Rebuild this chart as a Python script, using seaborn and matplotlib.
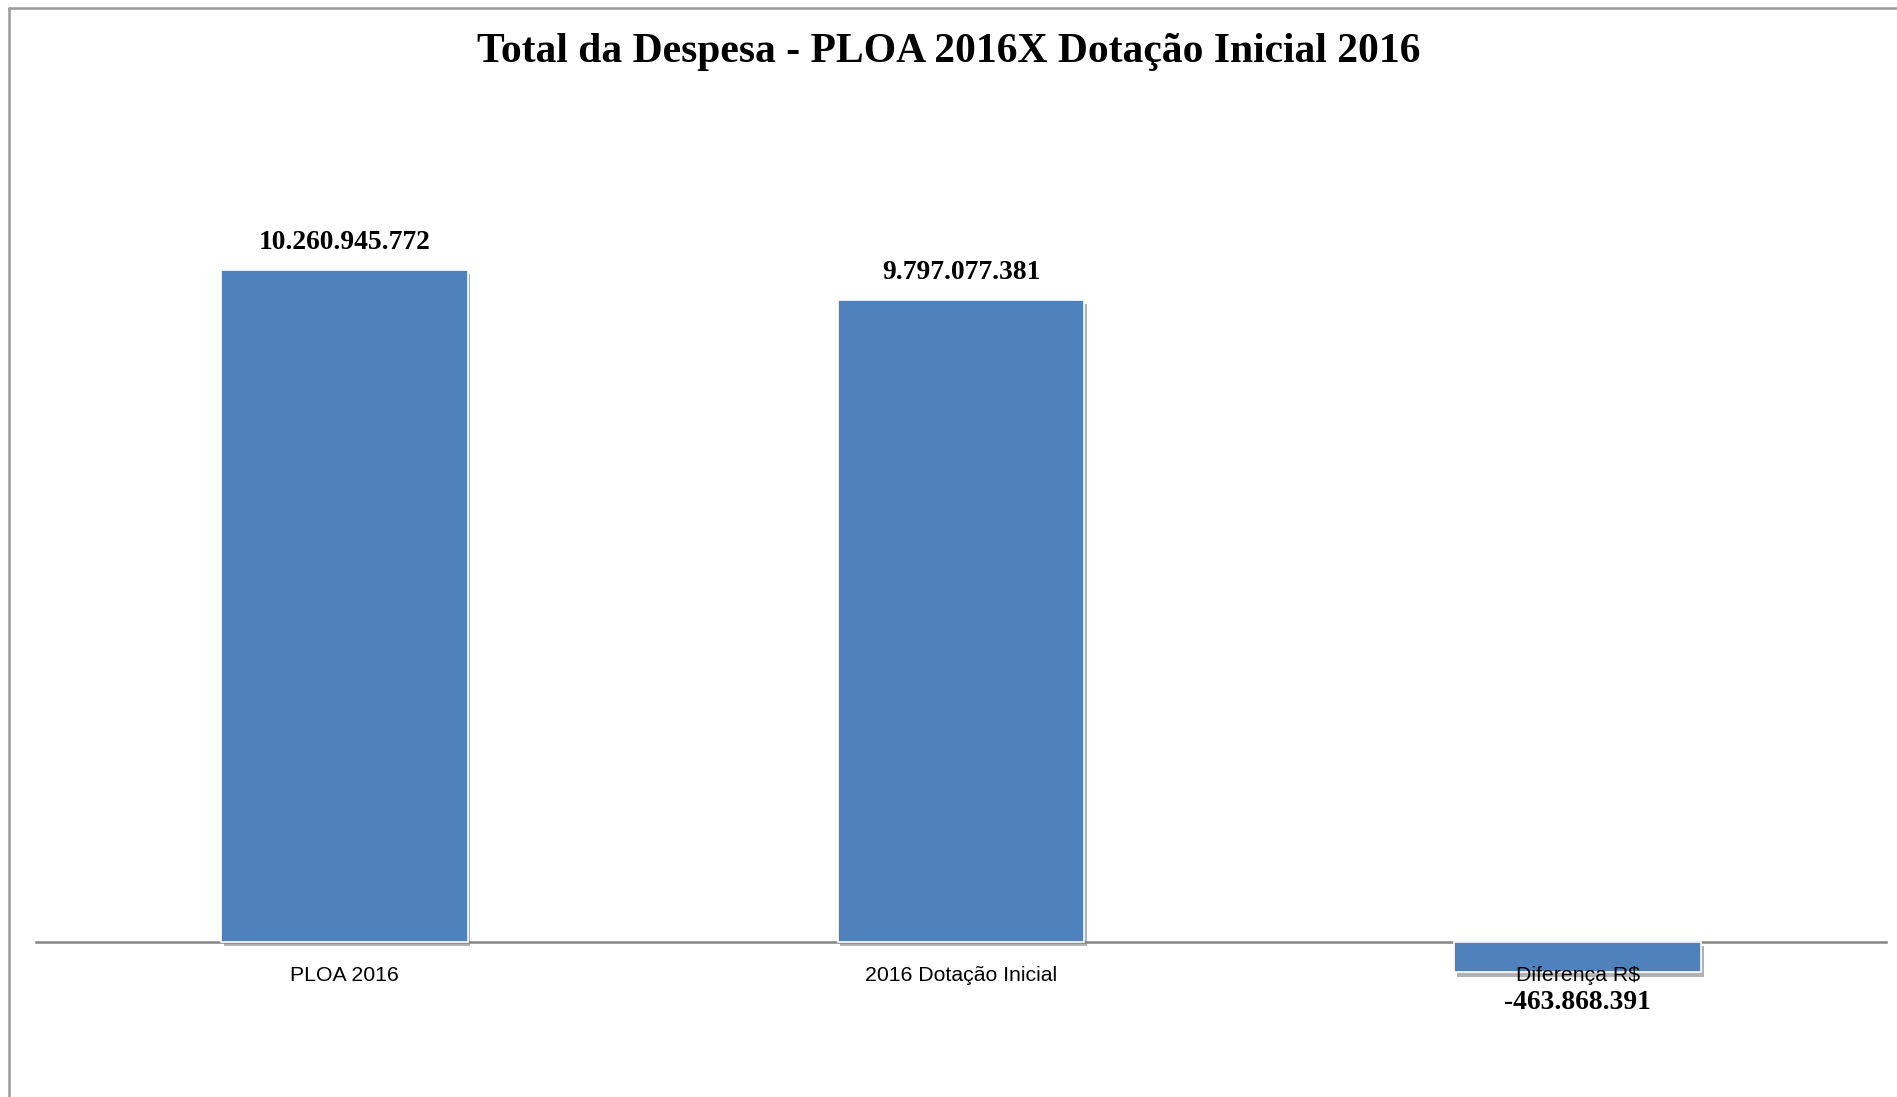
import matplotlib
matplotlib.use("Agg")
import matplotlib.pyplot as plt
import matplotlib.patheffects as pe
from matplotlib.lines import Line2D
import seaborn as sns
import pandas as pd

categories = ["PLOA 2016", "2016 Dotação Inicial", "Diferença R$"]
values = [10260945772, 9797077381, -463868391]
value_labels = ["10.260.945.772", "9.797.077.381", "-463.868.391"]
title = "Total da Despesa - PLOA 2016X Dotação Inicial 2016"

sns.set_theme(style="white")
plt.rcParams["font.family"] = ["Liberation Sans", "DejaVu Sans"]

df = pd.DataFrame({"cat": categories, "val": values})

W, H = 1897, 1097
fig = plt.figure(figsize=(W / 100, H / 100), dpi=100)
fig.patch.set_facecolor("white")
ax = fig.add_axes([36 / W, 0, 1850 / W, 1])
ax.set_facecolor("none")

sns.barplot(data=df, x="cat", y="val", color="#4F81BD", saturation=1,
            width=0.4, ax=ax, edgecolor="white", linewidth=1.2)

for p in ax.patches:
    p.set_path_effects([pe.SimplePatchShadow(offset=(2, -3), shadow_rgbFace="#808080", alpha=0.6),
                        pe.Normal()])

ax.set_xlim(-0.5, 2.5)
ax.set_ylim(-2.367e9, 14.38e9)
ax.set_xlabel("")
ax.set_ylabel("")
ax.set_yticks([])
for s in ["top", "right", "left"]:
    ax.spines[s].set_visible(False)
ax.spines["bottom"].set_position(("data", 0))
ax.spines["bottom"].set_color("#868686")
ax.spines["bottom"].set_linewidth(1.8)
ax.spines["bottom"].set_zorder(0)
ax.tick_params(axis="x", length=0, pad=17, labelsize=15.3, labelcolor="black")
ax.set_xticks(range(len(categories)))
ax.set_xticklabels(categories)
ax.xaxis.set_zorder(10)

for p, lab, v in zip(ax.patches, value_labels, values):
    x = p.get_x() + p.get_width() / 2
    off = 20 if v >= 0 else -21.5
    ax.annotate(lab, (x, v), xytext=(0, off), textcoords="offset points",
                ha="center", va="center", fontsize=19.8, fontweight="bold",
                family=["Liberation Serif", "DejaVu Serif"], color="black", zorder=11)

fig.text(0.5, 1 - 52 / H, title, ha="center", va="center", fontsize=30,
         fontweight="bold", family=["Liberation Serif", "DejaVu Serif"], color="black")

fig.add_artist(Line2D([9 / W, 1], [1 - 7.5 / H, 1 - 7.5 / H], transform=fig.transFigure,
                      color="#9a9a9a", linewidth=1.8))
fig.add_artist(Line2D([9 / W, 9 / W], [0, 1 - 7.5 / H], transform=fig.transFigure,
                      color="#9a9a9a", linewidth=1.8))

fig.savefig("out.png", dpi=100, facecolor="white")
